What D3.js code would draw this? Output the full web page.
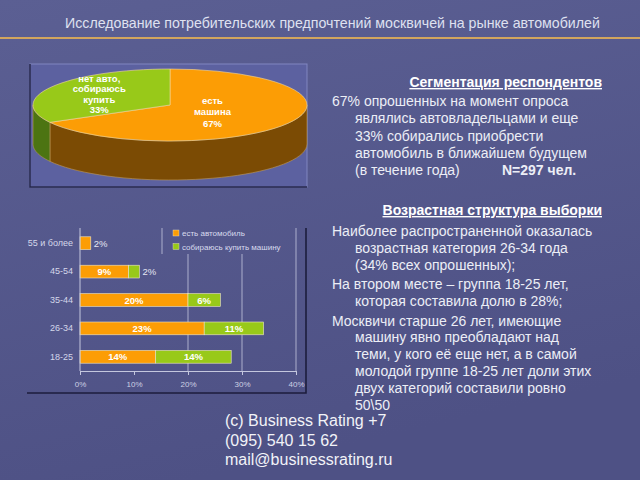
<html>
<head>
  <meta charset="utf-8">
  <script src="https://d3js.org/d3.v7.min.js"></script>
  <style>
    body { margin: 0; background: #55598c; }
    svg { display: block; font-family: "Liberation Sans", Arial, sans-serif; }
  </style>
</head>
<body>
  <div id="chart"></div>
  <script>

    // Pie: segmentation of respondents
    var pieLabels = [["есть", "машина", "67%"], ["нет авто,", "собираюсь", "купить", "33%"]];
    var pieValues = [67, 33];

    // Bars: age structure
    var ages = ["55 и более", "45-54", "35-44", "26-34", "18-25"];
    var haveCar = [2, 9, 20, 23, 14];
    var planCar = [0, 2, 6, 11, 14];
    var seriesNames = ["есть автомобиль", "собираюсь купить машину"];
    var xTicks = [0, 10, 20, 30, 40];

    var title = "Исследование потребительских предпочтений москвичей на рынке автомобилей";

    var block1 = [
      ["67% опрошенных на момент опроса"],
      ["являлись автовладельцами и еще"],
      ["33% собирались приобрести"],
      ["автомобиль в ближайшем будущем"],
      ["(в течение года)", "N=297 чел."]
    ];
    var block2 = [
      ["Наиболее распространенной оказалась", "возрастная категория 26-34 года", "(34% всех опрошенных);"],
      ["На втором месте – группа 18-25 лет,", "которая составила долю в 28%;"],
      ["Москвичи старше 26 лет, имеющие", "машину явно преобладают над", "теми, у кого её еще нет, а в самой",
       "молодой группе 18-25 лет доли этих", "двух категорий составили ровно", "50\\50"]
    ];
    var footer = ["(c) Business Rating +7", "(095) 540 15 62", "mail@businessrating.ru"];

    var W = 640, H = 480;
    var orange = "#fc9d05", green = "#98c919";

    var svg = d3.select("#chart").append("svg")
      .attr("width", W).attr("height", H);

    // background
    var defs = svg.append("defs");
    var bg = defs.append("linearGradient").attr("id", "bg")
      .attr("x1", 0).attr("y1", 0).attr("x2", 0.3).attr("y2", 1);
    bg.append("stop").attr("offset", 0).attr("stop-color", "#5b5f93");
    bg.append("stop").attr("offset", 1).attr("stop-color", "#4e5185");
    svg.append("rect").attr("width", W).attr("height", H).attr("fill", "url(#bg)");

    // title + rule
    svg.append("text")
      .attr("x", 65).attr("y", 28)
      .attr("font-size", 14.2).attr("fill", "#dfe1f0")
      .text(title);
    svg.append("line")
      .attr("x1", 0).attr("x2", W).attr("y1", 38).attr("y2", 38)
      .attr("stroke", "#d2a55e").attr("stroke-width", 2);

    // ---------- 3D pie ----------
    svg.append("rect")
      .attr("x", 30).attr("y", 64).attr("width", 277).attr("height", 123)
      .attr("fill", "#5c61a0").attr("stroke", "#8086c0").attr("stroke-width", 1);
    svg.append("path")
      .attr("d", "M30,64V187H307")
      .attr("fill", "none").attr("stroke", "#24264a").attr("stroke-width", 1.5);

    var cx = 170, cy = 105, rx = 137, ry = 36, depth = 39;
    var pie = d3.pie().sort(null)(pieValues);
    var topCols = [orange, green];
    var sideCols = ["#7b4b04", "#4c7412"];

    function ex(a) { return cx + rx * Math.sin(a); }
    function ey(a) { return cy - ry * Math.cos(a); }

    // side walls (front half only)
    pie.forEach(function(s, i) {
      var a0 = Math.max(s.startAngle, Math.PI / 2);
      var a1 = Math.min(s.endAngle, Math.PI * 1.5);
      if (a1 <= a0) return;
      var steps = d3.range(0, 41).map(function(k) { return a0 + (a1 - a0) * k / 40; });
      var pts = steps.map(function(a) { return [ex(a), ey(a)]; })
        .concat(steps.slice().reverse().map(function(a) { return [ex(a), ey(a) + depth]; }));
      svg.append("path")
        .attr("d", d3.line()(pts) + "Z")
        .attr("fill", sideCols[i])
        .attr("stroke", "#c09a5a").attr("stroke-width", 0.6);
    });

    var arc = d3.arc().innerRadius(0).outerRadius(rx);
    var topG = svg.append("g")
      .attr("transform", "translate(" + cx + "," + cy + ") scale(1," + (ry / rx) + ")");
    topG.selectAll("path").data(pie).join("path")
      .attr("d", arc)
      .attr("fill", function(d, i) { return topCols[i]; })
      .attr("stroke", "#f2d9a0").attr("stroke-width", 0.6)
      .attr("vector-effect", "non-scaling-stroke");

    var labelR = [0.36, 0.6], lineH = [11.5, 10.5];
    pie.forEach(function(s, i) {
      var m = (s.startAngle + s.endAngle) / 2;
      var lx = cx + rx * labelR[i] * Math.sin(m);
      var ly = cy - ry * labelR[i] * Math.cos(m);
      var lines = pieLabels[i];
      var t = svg.append("text")
        .attr("text-anchor", "middle")
        .attr("font-size", 9.5).attr("font-weight", "bold").attr("fill", "#ffffff");
      lines.forEach(function(l, k) {
        t.append("tspan").attr("x", lx)
          .attr("y", ly + (k - (lines.length - 1) / 2) * lineH[i] + 3.5)
          .text(l);
      });
    });

    // ---------- bar chart ----------
    var x = d3.scaleLinear().domain([0, 40]).range([80, 296]);
    var y = d3.scaleBand().domain(ages).range([229, 371])
      .paddingInner(0.55).paddingOuter(0.275);
    var axisY = 371;
    var leg = {x0: 162, x1: 295, y0: 228, y1: 254};

    // frame shadow
    svg.append("path")
      .attr("d", "M306,228V393H27")
      .attr("fill", "none").attr("stroke", "#1c1d3c").attr("stroke-width", 1.6);

    // gridlines
    svg.append("g").selectAll("line").data(xTicks.filter(function(v) { return v >= 20; }))
      .join("line")
        .attr("x1", function(d) { return x(d); }).attr("x2", function(d) { return x(d); })
        .attr("y1", function(d) { return x(d) > leg.x0 && x(d) < leg.x1 - 2 ? leg.y1 : leg.y0; })
        .attr("y2", axisY)
        .attr("stroke", "#c4c7de").attr("stroke-width", 0.8);

    var bars = ages.map(function(a, i) {
      return {age: a, segs: [
        {x0: 0, v: haveCar[i], c: orange},
        {x0: haveCar[i], v: planCar[i], c: green}
      ]};
    });

    var rows = svg.append("g").selectAll("g").data(bars).join("g");
    rows.selectAll("rect").data(function(d) { return d.segs.filter(function(s) { return s.v > 0; }); })
      .join("rect")
        .attr("x", function(s) { return x(s.x0); })
        .attr("y", function(s) { return y(d3.select(this.parentNode).datum().age); })
        .attr("width", function(s) { return x(s.x0 + s.v) - x(s.x0); })
        .attr("height", y.bandwidth())
        .attr("fill", function(s) { return s.c; })
        .attr("stroke", "#efe6c8").attr("stroke-width", 0.6);

    rows.selectAll("text").data(function(d) {
        return d.segs.filter(function(s) { return s.v > 0; })
          .map(function(s) { return {s: s, age: d.age}; });
      })
      .join("text")
        .attr("x", function(d) { return d.s.v >= 5 ? x(d.s.x0 + d.s.v / 2) : x(d.s.x0 + d.s.v) + 3; })
        .attr("y", function(d) { return y(d.age) + y.bandwidth() / 2 + 3.5; })
        .attr("text-anchor", function(d) { return d.s.v >= 5 ? "middle" : "start"; })
        .attr("font-size", 9.5)
        .attr("font-weight", function(d) { return d.s.v >= 5 ? "bold" : "normal"; })
        .attr("fill", function(d) { return d.s.v >= 5 ? "#ffffff" : "#e4e6f2"; })
        .text(function(d) { return d.s.v + "%"; });

    // axes
    var xa = svg.append("g")
      .attr("transform", "translate(0," + axisY + ")")
      .call(d3.axisBottom(x).tickValues(xTicks).tickSize(4).tickSizeOuter(0).tickPadding(6)
        .tickFormat(function(d) { return d + "%"; }));
    xa.selectAll("path, line").attr("stroke", "#c4c7de");
    xa.selectAll("text").attr("font-size", 8).attr("fill", "#cdd0e4")
      .attr("font-family", "'Liberation Sans', Arial, sans-serif");

    var ya = svg.append("g")
      .attr("transform", "translate(" + x(0) + ",0)")
      .call(d3.axisLeft(y).tickSize(0).tickPadding(7));
    ya.select(".domain").attr("stroke", "#c4c7de").attr("d", "M0,228V" + axisY);
    ya.selectAll("text").attr("font-size", 9).attr("fill", "#d4d7ea")
      .attr("font-family", "'Liberation Sans', Arial, sans-serif");

    // legend
    svg.append("line")
      .attr("x1", leg.x0).attr("x2", leg.x0).attr("y1", leg.y0).attr("y2", leg.y1)
      .attr("stroke", "#c4c7de").attr("stroke-width", 0.8);
    var lg = svg.append("g").selectAll("g").data(seriesNames).join("g")
      .attr("transform", function(d, i) { return "translate(173," + (233 + i * 13.5) + ")"; });
    lg.append("rect").attr("x", 0).attr("y", -3).attr("width", 6).attr("height", 6)
      .attr("fill", function(d, i) { return [orange, green][i]; })
      .attr("stroke", "#efe6c8").attr("stroke-width", 0.4);
    lg.append("text").attr("x", 9).attr("y", 3)
      .attr("font-size", 8).attr("fill", "#d8dbee")
      .text(function(d) { return d; });

    // ---------- text panel ----------
    var txtCol = "#eceef6";
    function heading(str, yy) {
      svg.append("text")
        .attr("x", 602).attr("y", yy).attr("text-anchor", "end")
        .attr("font-size", 14).attr("font-weight", "bold")
        .attr("text-decoration", "underline").attr("fill", "#ffffff")
        .text(str);
    }
    heading("Сегментация респондентов", 87);
    block1.forEach(function(l, i) {
      var t = svg.append("text")
        .attr("x", i === 0 ? 332 : 355).attr("y", 106 + i * 17.3)
        .attr("font-size", 14).attr("fill", txtCol)
        .text(l[0]);
      if (l[1]) t.append("tspan").attr("x", 502).attr("font-weight", "bold").text(l[1]);
    });

    heading("Возрастная структура выборки", 215);
    var yy = 236;
    block2.forEach(function(p) {
      p.forEach(function(l, k) {
        svg.append("text")
          .attr("x", k === 0 ? 332 : 355).attr("y", yy)
          .attr("font-size", 14).attr("fill", txtCol)
          .text(l);
        yy += 16.9;
      });
      yy += 2.5;
    });

    // footer
    footer.forEach(function(l, i) {
      svg.append("text")
        .attr("x", 225).attr("y", 426 + i * 19.5)
        .attr("font-size", 16).attr("fill", "#f2f3f8")
        .text(l);
    });

  </script>
</body>
</html>
